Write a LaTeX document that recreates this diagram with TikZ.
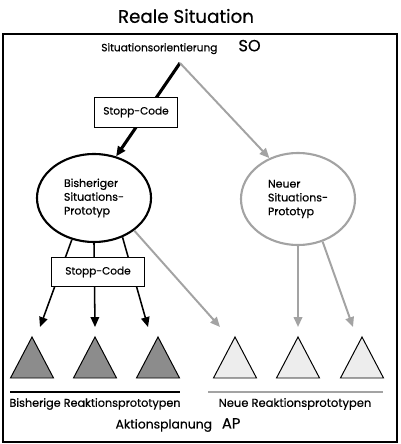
\documentclass[tikz,border=0pt]{standalone}
\usepackage{fontspec}
\setmainfont{Poppins}[FakeBold=0.5]
\usetikzlibrary{shapes.geometric,arrows.meta}
\definecolor{altgrau}{HTML}{8C8C8C}
\definecolor{neugrau}{HTML}{EDEDED}
\definecolor{pfeilgrau}{HTML}{A3A3A3}
\begin{document}
\begin{tikzpicture}
      [x=.025cm,y=-.025cm
      ,txt/.style={inner sep=0pt,font=\fontsize{7.5}{9}\selectfont}
      ,stopbox/.style={draw,fill=white,line width=.6pt,inner sep=0pt,font=\fontsize{7.5}{9}\selectfont}
      ,proto/.style={ellipse,minimum width=2.85cm,minimum height=2.2cm,inner sep=0pt,align=left,font=\fontsize{7.8}{9.8}\selectfont}
      ,alt/.style={draw=black,line width=1.5pt}
      ,neu/.style={draw=pfeilgrau,line width=1.5pt}
      ,altpfeil/.style={draw=black,line width=1.1pt,-{Triangle[length=7pt,width=6pt]}}
      ,neupfeil/.style={draw=pfeilgrau,line width=1.4pt,-{Triangle[length=7pt,width=6pt]}}
      ]
        \useasboundingbox (0,0) rectangle (400,444);
        \node (titel) at (186,16) {\fontsize{13}{15}\selectfont Reale Situation};
        \draw[line width=.9pt] (3,34) rectangle (397,442);
        \node[txt] (so) at (181,47) {Situationsorientierung\hspace{2em}{\fontsize{11.5}{12}\selectfont SO}};
        \coordinate (spitze) at (180,63);

        \node[proto,alt] (alt) at (94,198) {Bisheriger\\Situations-\\Prototyp};
        \node[proto,neu,minimum height=2.3cm] (neu) at (298,199) {Neuer\\Situations-\\Prototyp};

        % von SO zu den Prototypen
        \draw[altpfeil,line width=2.2pt] (spitze) -- (alt.62);
        \draw[neupfeil] (spitze) -- (neu.125);
        \node[stopbox,minimum width=2.08cm,minimum height=.75cm] (stopp1) at (136,112) {Stopp-Code};

        % Reaktionsprototypen
        \foreach \x/\n in {40/1,95/2,148/3,220/4,298/5,353/6}
          \coordinate (t\n) at (\x,327);
        \foreach \x in {32,95,158}
          \fill[altgrau,draw=black,line width=.7pt] (\x,337) -- (\x+21.5,378) -- (\x-21.5,378) -- cycle;
        \foreach \x in {235,298,362}
          \fill[neugrau,draw=black,line width=.7pt] (\x,337) -- (\x+21.5,378) -- (\x-21.5,378) -- cycle;

        \draw[altpfeil] (alt.-118) -- (t1);
        \draw[altpfeil] (alt.south) -- (t2);
        \draw[altpfeil] (alt.-54) -- (t3);
        \draw[neupfeil] (alt.-39) -- (t4);
        \draw[neupfeil] (neu.south) -- (t5);
        \draw[neupfeil] (neu.-60) -- (t6);
        \node[stopbox,minimum width=2.33cm,minimum height=.73cm] (stopp2) at (98,272) {Stopp-Code};

        \coordinate (la) at (10,392);
        \coordinate (lb) at (180,392);
        \coordinate (lc) at (208,392);
        \coordinate (ld) at (383,392);
        \draw[line width=1pt] (la) -- (lb);
        \draw[pfeilgrau,line width=1pt] (lc) -- (ld);
        \node[txt,font=\fontsize{8}{9}\selectfont] (bisher) at (95,404) {Bisherige Reaktionsprototypen};
        \node[txt,font=\fontsize{8.2}{9}\selectfont] (neue) at (295,404) {Neue Reaktionsprototypen};
        \node[txt,font=\fontsize{8.8}{10}\selectfont] (ap) at (178,425) {Aktionsplanung\hspace{.8em}{\fontsize{10.5}{12}\selectfont AP}};

      \end{tikzpicture}
\end{document}
